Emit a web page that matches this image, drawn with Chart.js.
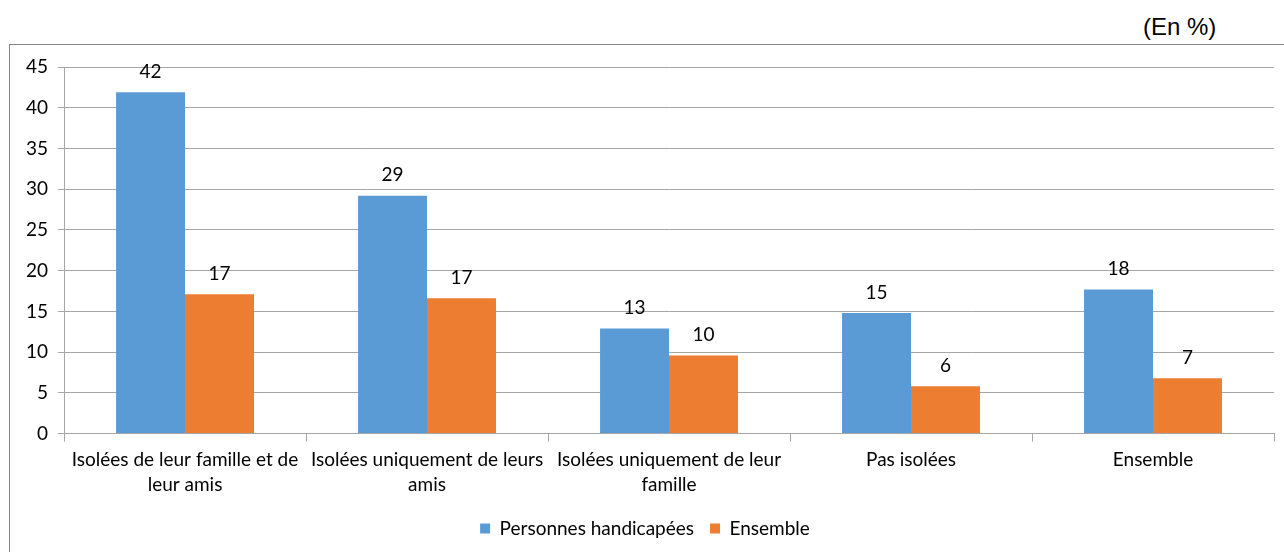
<!DOCTYPE html>
<html>
<head>
<meta charset="utf-8">
<script src="https://cdn.jsdelivr.net/npm/chart.js@4"></script>
<style>
  html, body { margin: 0; padding: 0; background: #fff; }
  body { width: 1284px; height: 552px; position: relative; overflow: hidden; }
  #frame {
    position: absolute; left: 9px; top: 44px; width: 1290px; height: 520px;
    border-left: 1px solid #868686; border-top: 1px solid #868686;
  }
  #unit {
    position: absolute; left: 1143px; top: 13px;
    font-family: "Liberation Sans", Arial, sans-serif; font-size: 24px; color: #000;
  }
  #wrap { position: absolute; left: 0; top: 0; width: 1284px; height: 552px; }
</style>
</head>
<body>
<div id="frame"></div>
<div id="unit">(En %)</div>
<div id="wrap"><canvas id="chart"></canvas></div>
<script>
// Categories and values
const categories = [
  ['Isolées de leur famille et de', 'leur amis'],
  ['Isolées uniquement de leurs', 'amis'],
  ['Isolées uniquement de leur', 'famille'],
  'Pas isolées',
  'Ensemble'
];
const seriesNames = ['Personnes handicapées', 'Ensemble'];
const handicapees = [41.9, 29.2, 12.9, 14.8, 17.7];
const ensemble = [17.1, 16.6, 9.6, 5.8, 6.8];
const yTicksMax = 45;
const yTickStep = 5;

const fontFamily = 'Lato, "Open Sans", sans-serif';

// Value labels above each bar (rounded like the reference)
const valueLabels = {
  id: 'valueLabels',
  afterDatasetsDraw(chart) {
    const ctx = chart.ctx;
    ctx.save();
    ctx.font = '19px ' + fontFamily;
    ctx.fillStyle = '#000';
    ctx.textAlign = 'center';
    ctx.textBaseline = 'bottom';
    chart.data.datasets.forEach((ds, i) => {
      chart.getDatasetMeta(i).data.forEach((bar, j) => {
        ctx.fillText(Math.round(ds.data[j]), bar.x, bar.y - 11);
      });
    });
    ctx.restore();
  }
};

new Chart(document.getElementById('chart'), {
  type: 'bar',
  data: {
    labels: categories,
    datasets: [{
      label: seriesNames[0],
      data: handicapees,
      backgroundColor: '#5B9BD5',
      categoryPercentage: 0.57,
      barPercentage: 1.0
    }, {
      label: seriesNames[1],
      data: ensemble,
      backgroundColor: '#ED7D31',
      categoryPercentage: 0.57,
      barPercentage: 1.0
    }]
  },
  options: {
    responsive: true,
    maintainAspectRatio: false,
    animation: false,
    layout: {
      padding: { left: 16, right: 10, top: 67, bottom: 4 }
    },
    plugins: {
      legend: {
        position: 'bottom',
        labels: {
          font: { family: fontFamily, size: 19 },
          color: '#000',
          boxWidth: 10,
          boxHeight: 10,
          padding: 16
        }
      },
      tooltip: { enabled: false }
    },
    scales: {
      x: {
        grid: {
          drawOnChartArea: false,
          drawTicks: true,
          tickLength: 8,
          color: '#a6a6a6'
        },
        border: { color: '#a6a6a6' },
        ticks: {
          font: { family: fontFamily, size: 19, lineHeight: 1.3 },
          color: '#000',
          maxRotation: 0,
          autoSkip: false,
          padding: 6
        }
      },
      y: {
        min: 0,
        max: yTicksMax,
        grid: {
          color: '#a6a6a6',
          tickLength: 6
        },
        border: { color: '#a6a6a6' },
        ticks: {
          stepSize: yTickStep,
          font: { family: fontFamily, size: 19 },
          color: '#000',
          padding: 10
        }
      }
    }
  },
  plugins: [valueLabels]
});
</script>
</body>
</html>
